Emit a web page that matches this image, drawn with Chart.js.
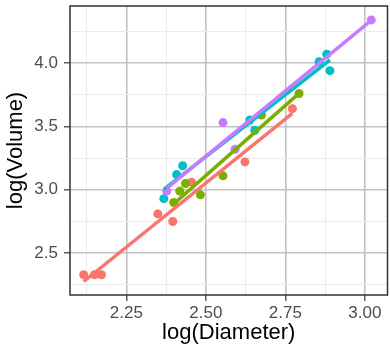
<!DOCTYPE html>
<html>
<head>
<meta charset="utf-8">
<script src="https://cdn.jsdelivr.net/npm/chart.js@4.4.0/dist/chart.umd.min.js"></script>
<style>
html, body { margin: 0; padding: 0; background: #fff; overflow: hidden; }
#wrap { width: 390px; height: 347px; overflow: hidden; }
</style>
</head>
<body>
<div id="wrap"><canvas id="myChart" width="392" height="347"></canvas></div>
<script>
// log(Diameter) / log(Volume) por grupo
const redDiam = [2.116, 2.150, 2.172, 2.349, 2.396, 2.455, 2.623, 2.772];
const redVol = [2.33, 2.33, 2.33, 2.81, 2.75, 3.06, 3.22, 3.64];
const greenDiam = [2.399, 2.418, 2.436, 2.483, 2.554, 2.675, 2.793];
const greenVol = [2.90, 2.99, 3.05, 2.96, 3.11, 3.59, 3.76];
const cyanDiam = [2.368, 2.408, 2.427, 2.638, 2.654, 2.856, 2.880, 2.890];
const cyanVol = [2.93, 3.12, 3.19, 3.55, 3.47, 4.01, 4.07, 3.94];
const purpleDiam = [2.377, 2.554, 2.592, 3.020];
const purpleVol = [2.99, 3.53, 3.32, 4.34];

const xTicks = [2.25, 2.50, 2.75, 3.00];
const yTicks = [2.5, 3.0, 3.5, 4.0];

const RED = '#F8766D', GREEN = '#7CAE00', CYAN = '#00BFC4', PURPLE = '#C77CFF';

function points(xs, ys) {
    return xs.map(function (x, i) { return { x: x, y: ys[i] }; });
}

// recta de minimos cuadrados (como geom_smooth method = lm)
function fit(xs, ys) {
    var n = xs.length;
    var mx = xs.reduce(function (a, b) { return a + b; }) / n;
    var my = ys.reduce(function (a, b) { return a + b; }) / n;
    var sxy = 0, sxx = 0;
    xs.forEach(function (x, i) {
        sxy += (x - mx) * (ys[i] - my);
        sxx += (x - mx) * (x - mx);
    });
    var b = sxy / sxx, a = my - b * mx;
    var x0 = Math.min.apply(null, xs), x1 = Math.max.apply(null, xs);
    return [{ x: x0, y: a + b * x0 }, { x: x1, y: a + b * x1 }];
}

function isMajor(v, list) {
    return list.some(function (m) { return Math.abs(m - v) < 1e-6; });
}

// ticks mayores + menores (a mitad de camino), solo dentro del rango
function withMinor(list, min, max) {
    var step = (list[1] - list[0]) / 2;
    var out = [];
    list.forEach(function (m) {
        out.push(+(m - step).toFixed(4));
        out.push(m);
    });
    out.push(+(list[list.length - 1] + step).toFixed(4));
    return out.filter(function (v) { return v >= min && v <= max; })
              .map(function (v) { return { value: v }; });
}

function lineSet(xs, ys, color, order) {
    return {
        type: 'line', data: fit(xs, ys), borderColor: color, borderWidth: 3.5,
        pointRadius: 0, borderCapStyle: 'butt', fill: false, order: order
    };
}

function pointSet(xs, ys, color, order) {
    return {
        type: 'scatter', data: points(xs, ys), backgroundColor: color, borderWidth: 0,
        pointRadius: 4.5, order: order
    };
}

const panelBorder = {
    id: 'panelBorder',
    afterDraw: function (chart) {
        var ctx = chart.ctx, a = chart.chartArea;
        ctx.save();
        ctx.strokeStyle = '#333333';
        ctx.lineWidth = 1.5;
        ctx.strokeRect(a.left, a.top, a.right - a.left, a.bottom - a.top);
        ctx.restore();
    }
};

function gridColor(list) {
    return function (c) {
        if (!c.tick) return 'rgba(0,0,0,0)';
        return isMajor(c.tick.value, list) ? '#c2c2c2' : '#ebebeb';
    };
}
function gridWidth(list) {
    return function (c) {
        if (!c.tick) return 0;
        return isMajor(c.tick.value, list) ? 1.6 : 1;
    };
}
function tickColor(list) {
    return function (c) {
        if (!c.tick) return 'rgba(0,0,0,0)';
        return isMajor(c.tick.value, list) ? '#333333' : 'rgba(0,0,0,0)';
    };
}

let myChart = document.getElementById('myChart').getContext('2d');

let scatterChart = new Chart(myChart, {
    type: 'scatter',
    data: {
        datasets: [
            pointSet(redDiam, redVol, RED, 8),
            pointSet(greenDiam, greenVol, GREEN, 7),
            pointSet(cyanDiam, cyanVol, CYAN, 6),
            pointSet(purpleDiam, purpleVol, PURPLE, 5),
            lineSet(redDiam, redVol, RED, 4),
            lineSet(greenDiam, greenVol, GREEN, 3),
            lineSet(cyanDiam, cyanVol, CYAN, 2),
            lineSet(purpleDiam, purpleVol, PURPLE, 1)
        ]
    },
    options: {
        responsive: false,
        animation: false,
        layout: { padding: { left: 0, right: 1, top: 6, bottom: 0 } },
        plugins: { legend: { display: false }, tooltip: { enabled: false } },
        scales: {
            x: {
                type: 'linear', min: 2.073, max: 3.071,
                afterBuildTicks: function (axis) { axis.ticks = withMinor(xTicks, 2.073, 3.071); },
                afterFit: function (axis) {
                    axis.height = 52;
                    axis.paddingLeft = 0;
                    axis.paddingRight = 0;
                },
                border: { display: false },
                grid: {
                    color: gridColor(xTicks), lineWidth: gridWidth(xTicks),
                    tickColor: tickColor(xTicks), tickLength: 6, tickWidth: 1.2
                },
                ticks: {
                    autoSkip: false, maxRotation: 0, padding: 2, color: '#4d4d4d',
                    font: { family: 'Liberation Sans', size: 17 },
                    callback: function (v) { return isMajor(v, xTicks) ? v.toFixed(2) : ''; }
                },
                title: {
                    display: true, text: 'log(Diameter)', color: '#000',
                    font: { family: 'Liberation Sans', size: 22 },
                    padding: { top: 1, bottom: 1 }
                }
            },
            y: {
                type: 'linear', min: 2.17, max: 4.45,
                afterBuildTicks: function (axis) { axis.ticks = withMinor(yTicks, 2.17, 4.45); },
                afterFit: function (axis) {
                    axis.width = 70;
                    axis.paddingTop = 0;
                    axis.paddingBottom = 0;
                },
                border: { display: false },
                grid: {
                    color: gridColor(yTicks), lineWidth: gridWidth(yTicks),
                    tickColor: tickColor(yTicks), tickLength: 6, tickWidth: 1.2
                },
                ticks: {
                    autoSkip: false, padding: 6, color: '#4d4d4d',
                    font: { family: 'Liberation Sans', size: 17 },
                    callback: function (v) { return isMajor(v, yTicks) ? v.toFixed(1) : ''; }
                },
                title: {
                    display: true, text: 'log(Volume)', color: '#000',
                    font: { family: 'Liberation Sans', size: 22 },
                    padding: { top: 3, bottom: 3 }
                }
            }
        }
    },
    plugins: [panelBorder]
});
</script>
</body>
</html>
